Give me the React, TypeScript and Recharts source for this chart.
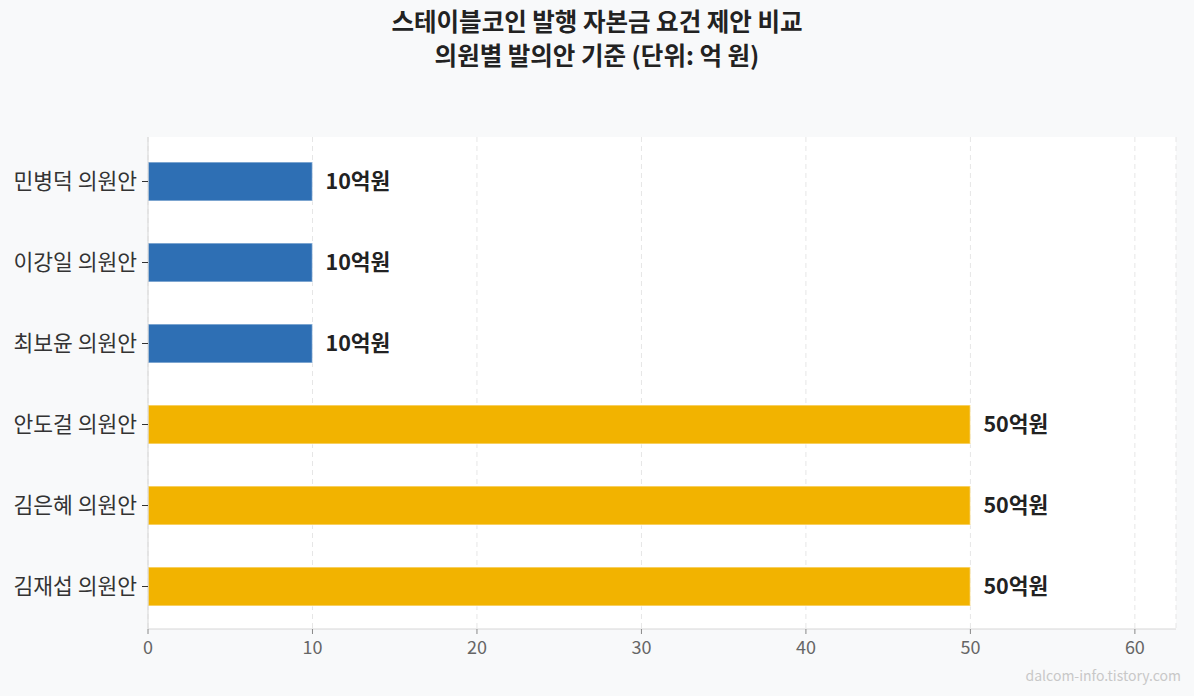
import React from "react"
import { Bar, BarChart, CartesianGrid, Cell, LabelList, XAxis, YAxis } from "recharts"

// 의원별 발의안 자본금 요건 (억 원)
const proposals = ["민병덕 의원안", "이강일 의원안", "최보윤 의원안", "안도걸 의원안", "김은혜 의원안", "김재섭 의원안"]
const capital = [10, 10, 10, 50, 50, 50]
const barColors = ["#2e6fb4", "#2e6fb4", "#2e6fb4", "#f2b300", "#f2b300", "#f2b300"]
const xTicks = [0, 10, 20, 30, 40, 50, 60]

const data = proposals.map((name, i) => ({ name, value: capital[i] }))

const FONT = "'Noto Sans CJK KR', 'Noto Sans', sans-serif"

export default function App() {
    return (
        <div style={{ position: "absolute", left: 0, top: 0, width: 1194, height: 696, background: "#f8f9fa", fontFamily: FONT, overflow: "hidden" }}>
            <div style={{ position: "absolute", top: 4, left: 0, width: 1194, textAlign: "center", fontSize: 24.5, fontWeight: 700, color: "#222", lineHeight: "34px" }}>
                <div>스테이블코인 발행 자본금 요건 제안 비교</div>
                <div>의원별 발의안 기준 (단위: 억 원)</div>
            </div>

            <BarChart
                width={1194}
                height={696}
                data={data}
                layout="vertical"
                margin={{ top: 137, right: 18, bottom: 37, left: 0 }}
                barCategoryGap={0}
                style={{ position: "absolute", left: 0, top: 0 }}
            >
                <CartesianGrid horizontal={false} stroke="#e6e6e6" strokeDasharray="5 4" fill="#ffffff" />
                <XAxis
                    type="number"
                    domain={[0, 62.5]}
                    ticks={xTicks}
                    height={30}
                    axisLine={{ stroke: "#d6d6d6" }}
                    tickLine={{ stroke: "#888" }}
                    tickSize={5}
                    tick={{ fill: "#666", fontSize: 18, fontFamily: FONT }}
                    tickMargin={7}
                />
                <YAxis
                    type="category"
                    dataKey="name"
                    width={148}
                    padding={{ top: 4, bottom: 2 }}
                    axisLine={{ stroke: "#d6d6d6" }}
                    tickLine={{ stroke: "#333" }}
                    tickSize={6}
                    tickMargin={5}
                    tick={{ fill: "#333", fontSize: 21.5, fontFamily: FONT }}
                />
                <Bar dataKey="value" barSize={39} stroke="#ffffff" strokeOpacity={0.5} strokeWidth={1.5} isAnimationActive={false}>
                    {data.map((d, i) => (
                        <Cell key={d.name} fill={barColors[i]} />
                    ))}
                    <LabelList
                        dataKey="value"
                        position="right"
                        offset={13}
                        formatter={(v: any) => `${v}억원`}
                        style={{ fill: "#222", stroke: "none", fontSize: 21.5, fontWeight: 700, fontFamily: FONT }}
                    />
                </Bar>
            </BarChart>

            <div style={{ position: "absolute", right: 13, top: 665, fontSize: 14, color: "#c8c8c8" }}>
                dalcom-info.tistory.com
            </div>
        </div>
    )
}
